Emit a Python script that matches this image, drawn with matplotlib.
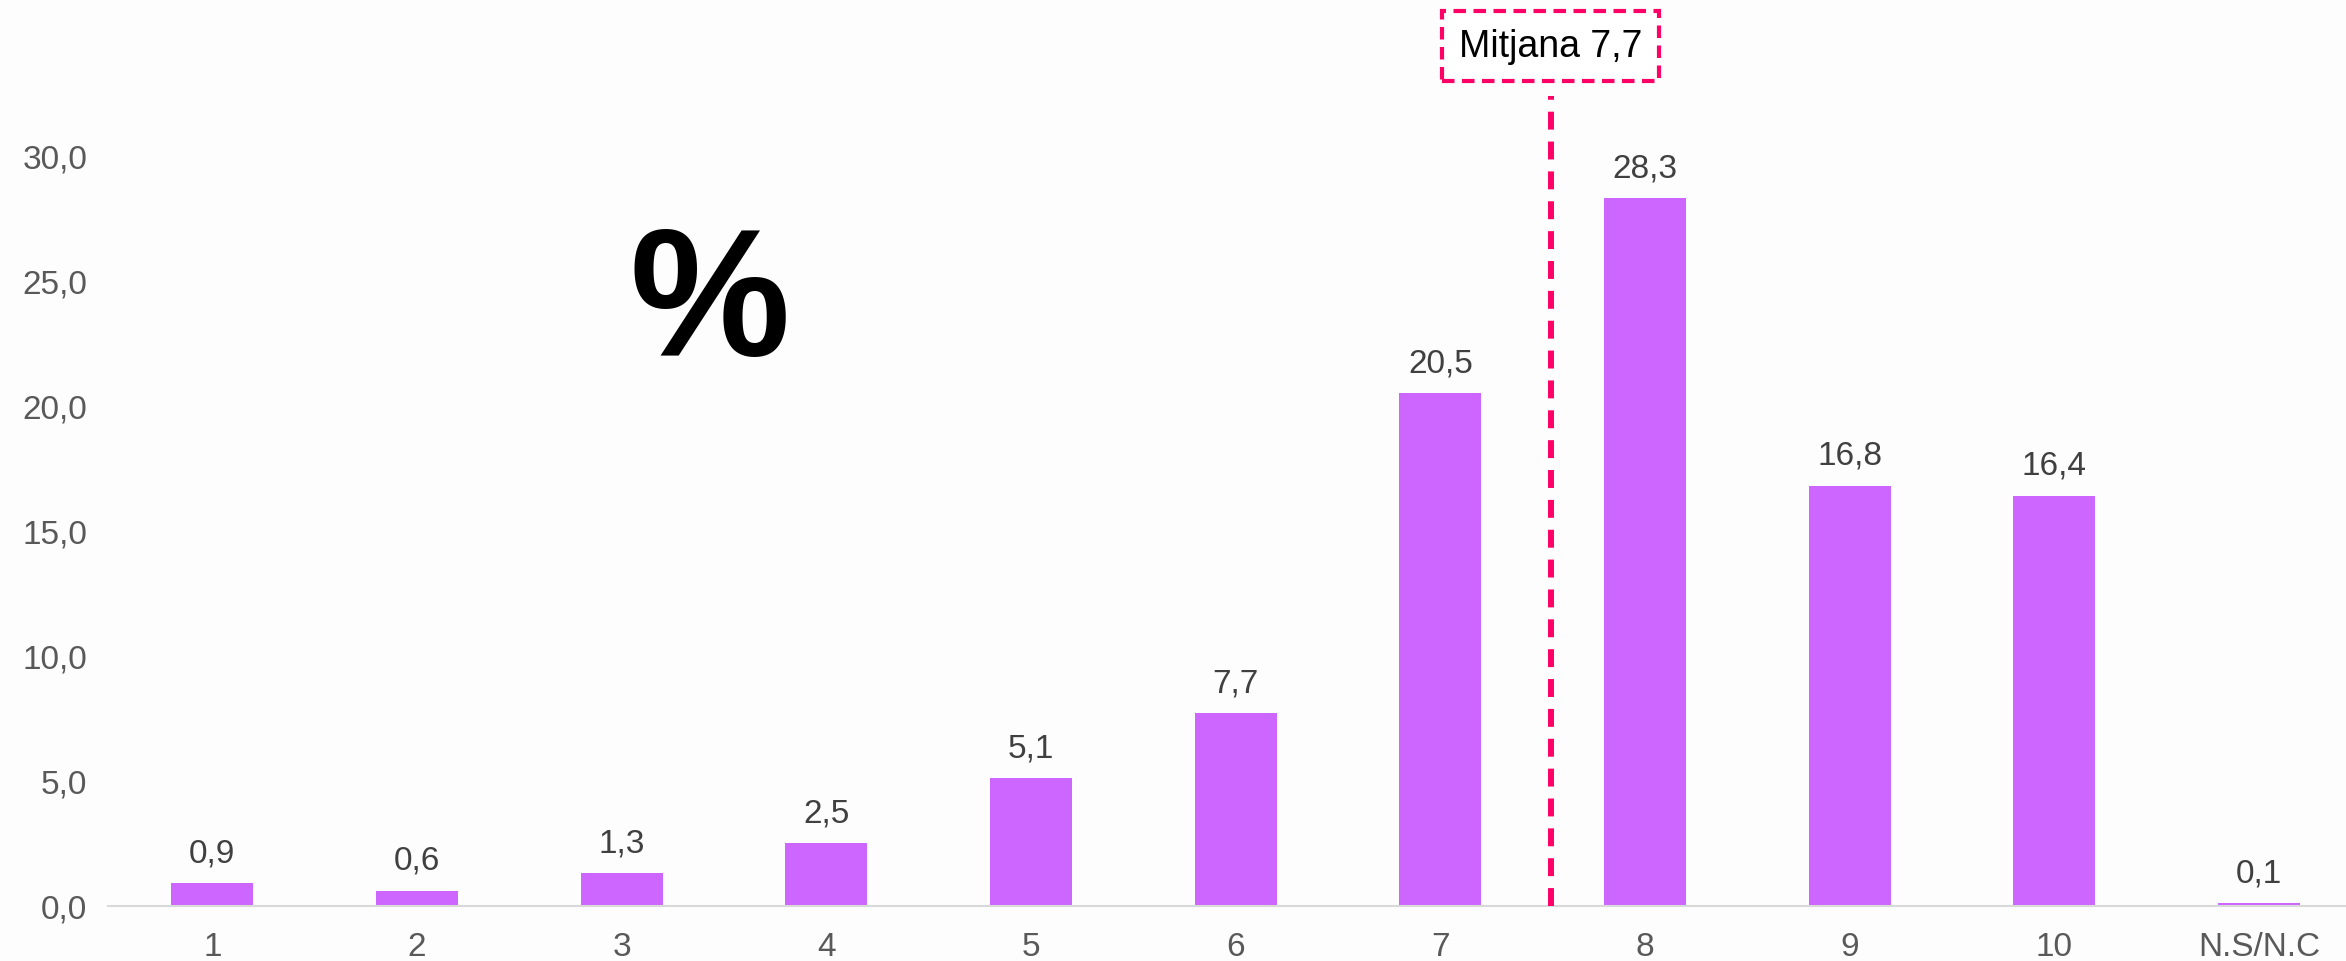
import matplotlib.pyplot as plt

plt.rcParams['font.family'] = ['Liberation Sans', 'DejaVu Sans']

# Data
categories = ['1', '2', '3', '4', '5', '6', '7', '8', '9', '10', 'N.S/N.C']
values = [0.9, 0.6, 1.3, 2.5, 5.1, 7.7, 20.5, 28.3, 16.8, 16.4, 0.1]
yticks = [0, 5, 10, 15, 20, 25, 30]
mean_label = 'Mitjana 7,7'
mean_pos = 6.54  # where the mean marker sits between categories 7 and 8

BAR_COLOR = '#CC66FF'
MEAN_COLOR = '#FF0066'


def fmt(v: float) -> str:
    return '{:.1f}'.format(v).replace('.', ',')


fig = plt.figure(figsize=(23.46, 9.62), dpi=100)
fig.patch.set_facecolor('#FDFDFD')
ax = fig.add_axes([0.046, 0.0572, 0.954, 0.9428])
ax.set_facecolor('none')

x = list(range(len(categories)))
bars = ax.bar(x, values, width=0.4, color=BAR_COLOR, zorder=2)

# Value labels above the bars
for rect, v in zip(bars, values):
    ax.annotate(fmt(v), (rect.get_x() + rect.get_width() / 2, rect.get_height()),
                xytext=(0, 11), textcoords='offset points',
                ha='center', va='bottom', fontsize=24, color='#404040')

ax.set_xlim(-0.51, 10.425)
ax.set_ylim(0, 36.28)
ax.set_xticks(x)
ax.set_xticklabels(categories)
ax.set_yticks(yticks)
ax.set_yticklabels([fmt(t) for t in yticks])
ax.tick_params(axis='x', length=0, pad=18, labelsize=24, labelcolor='#595959')
ax.tick_params(axis='y', length=0, pad=15, labelsize=24, labelcolor='#595959')

for side in ['top', 'right', 'left']:
    ax.spines[side].set_visible(False)
ax.spines['bottom'].set_color('#D9D9D9')
ax.spines['bottom'].set_linewidth(1.5)

# Mean marker
ax.plot([mean_pos, mean_pos], [0, 32.4], color=MEAN_COLOR, lw=4.3,
        dashes=(3, 2), zorder=3, clip_on=False)
ax.text(mean_pos, 34.4, mean_label, ha='center', va='center', fontsize=27,
        color='black',
        bbox=dict(boxstyle='square,pad=0.45', facecolor='white',
                  edgecolor=MEAN_COLOR, linewidth=3, linestyle=(0, (3, 1.8))))

# Big percent sign
ax.text(2.43, 23.9, '%', ha='center', va='center', fontsize=130,
        fontweight='bold', color='black')

plt.savefig('out.png', dpi=100, facecolor=fig.get_facecolor())
